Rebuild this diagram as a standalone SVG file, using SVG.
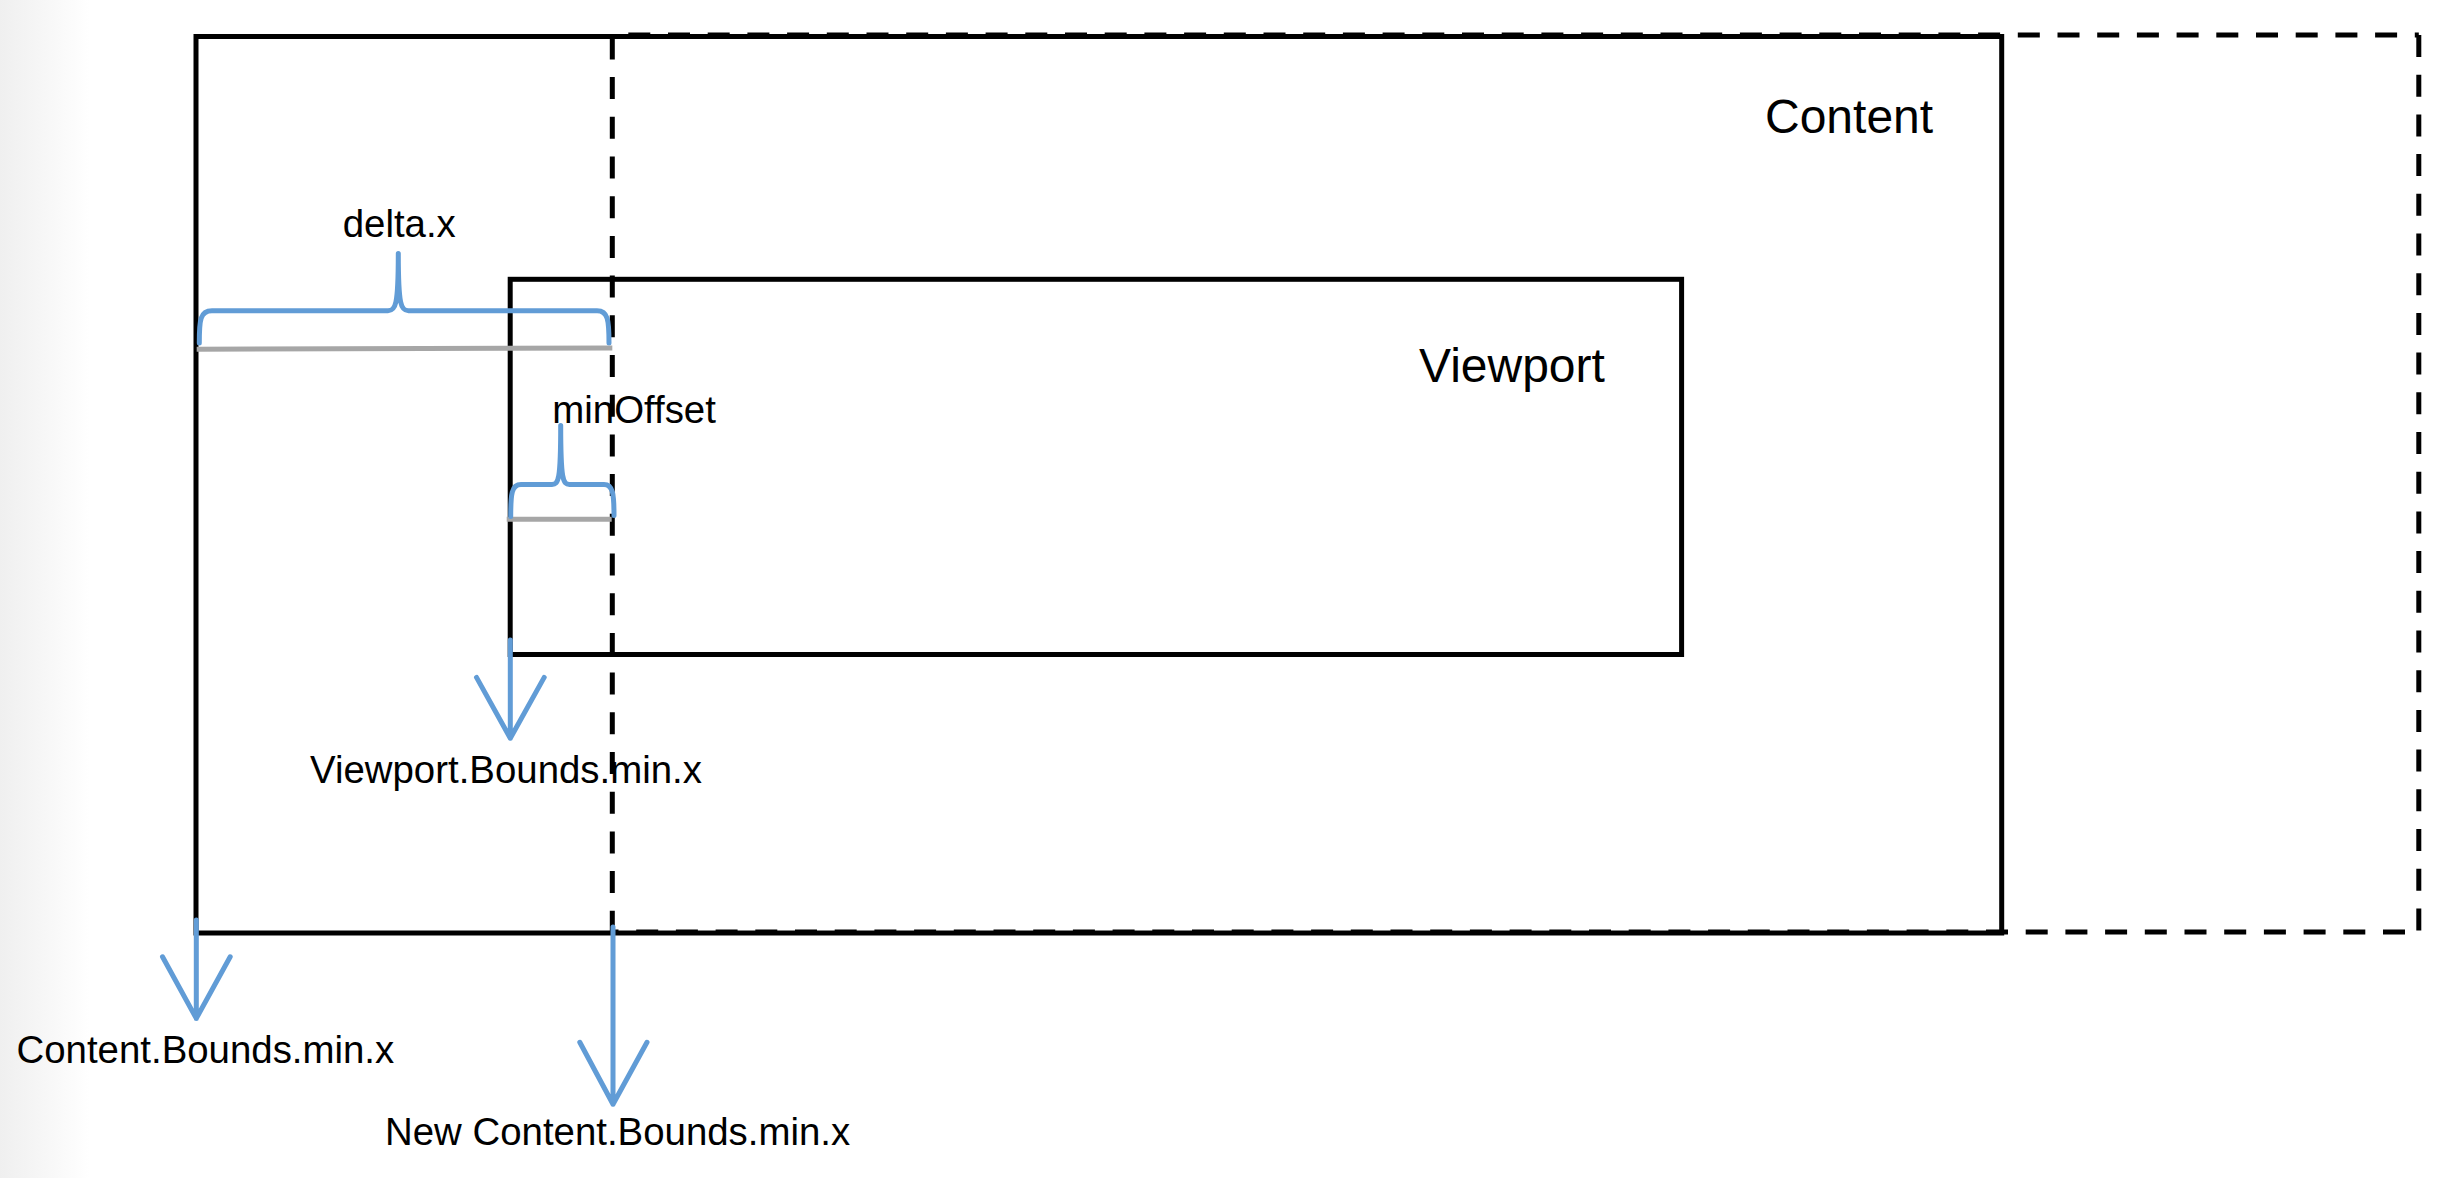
<svg xmlns="http://www.w3.org/2000/svg" width="2442" height="1178" viewBox="0 0 2442 1178">
<style>
.box{fill:none;stroke:#000;stroke-width:5}
.dash{fill:none;stroke:#000;stroke-width:5;stroke-dasharray:22 17.7}
.blue{fill:none;stroke:#619cd6;stroke-width:5;stroke-linecap:round;stroke-linejoin:round}
.gray{fill:none;stroke:#a6a6a6;stroke-width:5}
.big{font-family:"Liberation Sans",Arial,Helvetica,sans-serif;font-size:48px;fill:#000}
.lbl{font-family:"Liberation Sans",Arial,Helvetica,sans-serif;font-size:38.4px;fill:#000}
</style>
<defs>
<linearGradient id="edge" x1="0" y1="0" x2="1" y2="0">
<stop offset="0" stop-color="#efefef"/>
<stop offset="1" stop-color="#ffffff"/>
</linearGradient>
</defs>
<rect x="0" y="0" width="2442" height="1178" fill="#fff"/>
<rect x="0" y="0" width="90" height="1178" fill="url(#edge)"/>

<g id="content">
<rect class="box" x="196" y="36.5" width="1805.7" height="896.5"/>
<text class="big" x="1765" y="133">Content</text>
</g>

<g id="new-content">
<path class="dash" d="M628.3,35 H2418.8"/>
<path class="dash" d="M2418.8,35 V932"/>
<path class="dash" d="M2405,932 H612"/>
<path class="dash" d="M612.3,37.4 V932"/>
</g>

<g id="viewport">
<rect class="box" x="510.2" y="279.3" width="1171.4" height="375.2"/>
<text class="big" x="1419" y="382">Viewport</text>
</g>

<g id="delta-x">
<line class="gray" x1="196.7" y1="349.3" x2="612.3" y2="348"/>
<path class="blue" d="M199.3,343 C199.3,320 200,310.7 212,310.7 L388,310.7 C395.5,310.7 398.3,306 398.3,253.5 C398.3,306 401,310.7 408.5,310.7 L597,310.7 C608,310.7 609,320 609,343"/>
<text class="lbl" x="342.7" y="236.7">delta.x</text>
</g>

<g id="min-offset">
<line class="gray" x1="506.7" y1="519.3" x2="611.7" y2="519.3"/>
<path class="blue" d="M510.7,516.5 C510.7,494 511.5,484.5 521,484.5 L552,484.5 C558.5,484.5 560.7,480 560.7,425.5 C560.7,480 563,484.5 569.5,484.5 L604,484.5 C613,484.5 614,494 614,515.5"/>
<text class="lbl" x="552.3" y="423.3">minOffset</text>
</g>

<g id="connectors">
<path class="blue" d="M510.3,640 V738.2 M476.5,677.4 L510.3,738.2 L544.2,677.4"/>
<path class="blue" d="M196.3,920 V1018.4 M162.5,956.8 L196.3,1018.4 L230.2,956.8"/>
<path class="blue" d="M613,927 V1104.2 M579.8,1042.3 L613,1104.2 L647,1042.3"/>
</g>

<g id="labels">
<text class="lbl" x="310" y="783">Viewport.Bounds.min.x</text>
<text class="lbl" x="16.5" y="1062.5">Content.Bounds.min.x</text>
<text class="lbl" x="385" y="1145">New Content.Bounds.min.x</text>
</g>
</svg>
